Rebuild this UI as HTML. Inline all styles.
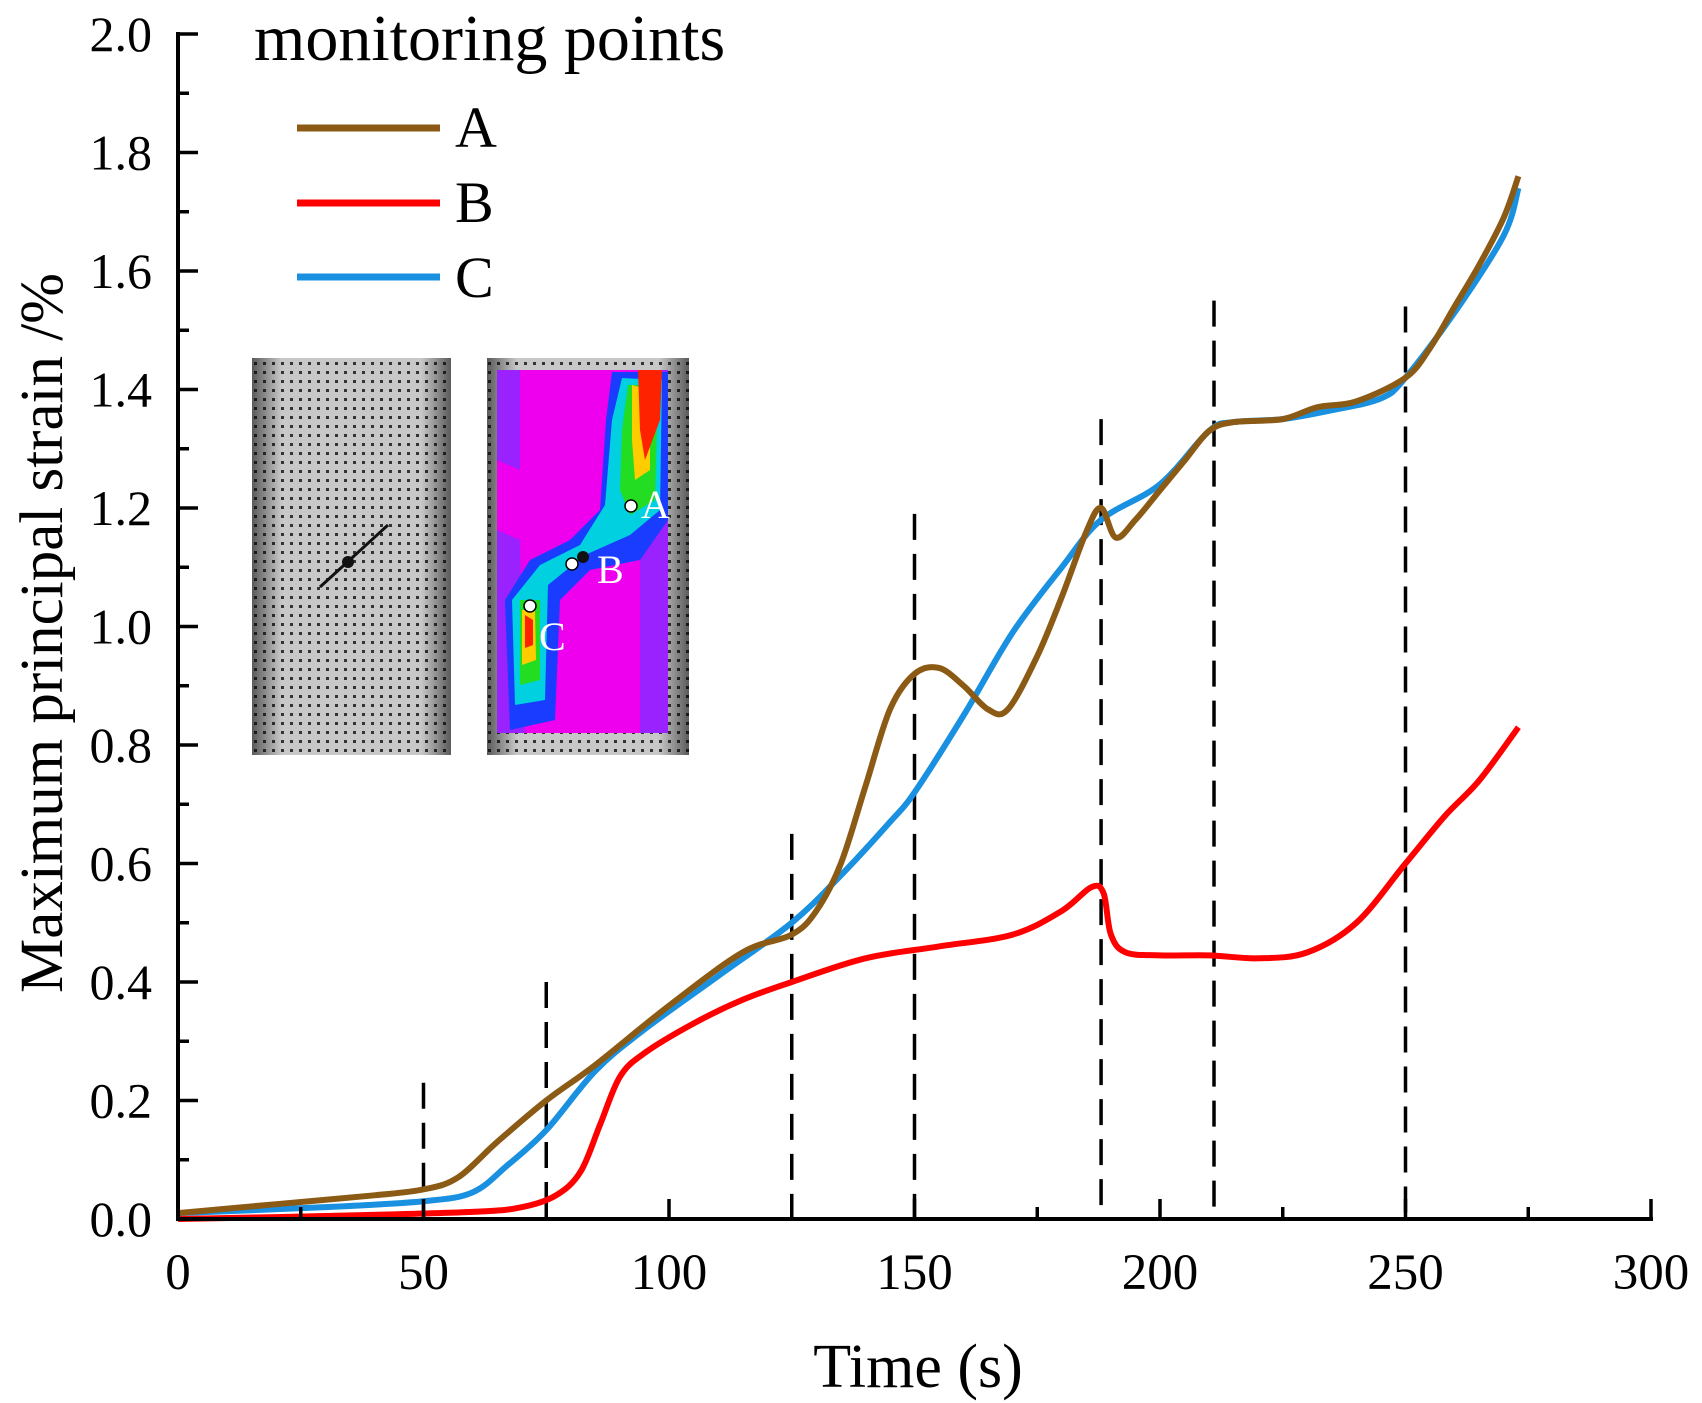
<!DOCTYPE html>
<html><head><meta charset="utf-8"><style>
html,body{margin:0;padding:0;background:#fff;}
svg{display:block;font-family:"Liberation Serif",serif;}
</style></head><body>
<svg id="chart" width="1702" height="1403" viewBox="0 0 1702 1403" xmlns="http://www.w3.org/2000/svg">
<defs>
<pattern id="dots" width="9" height="9" patternUnits="userSpaceOnUse">
<rect width="9" height="9" fill="#c8c8c8"/><rect x="2" y="2" width="3" height="3" fill="#333"/>
</pattern>
<linearGradient id="shade" x1="0" x2="1" y1="0" y2="0">
<stop offset="0" stop-color="#000" stop-opacity="0.55"/><stop offset="0.15" stop-color="#000" stop-opacity="0"/>
<stop offset="0.85" stop-color="#000" stop-opacity="0"/><stop offset="1" stop-color="#000" stop-opacity="0.55"/>
</linearGradient>
</defs>
<g id="insets">
<g>
<rect x="252" y="358" width="199" height="397" fill="url(#dots)"/>
<rect x="252" y="358" width="199" height="397" fill="url(#shade)"/>
<line x1="320" y1="587" x2="388" y2="525" stroke="#111" stroke-width="3"/>
<circle cx="348" cy="562" r="6" fill="#111"/>
</g>
<g>
<rect x="487" y="358" width="202" height="397" fill="url(#dots)"/>
<rect x="487" y="358" width="202" height="397" fill="url(#shade)"/>
<rect x="497" y="370" width="171" height="363" fill="#ee00ee"/>
<path d="M497 370 L520 370 L520 470 L497 460 Z M497 530 L520 540 L525 733 L497 733 Z" fill="#9a22ff"/>
<path d="M650 370 L668 370 L668 733 L640 733 L640 560 L610 560 Z" fill="#9a22ff"/>
<path d="M612 372 L668 372 L668 520 L640 560 L590 570 L560 600 L555 720 L510 730 L505 600 L530 560 L570 540 L600 510 L606 420 Z" fill="#1a3cff"/>
<path d="M622 378 L662 380 L660 510 L630 535 L585 555 L548 585 L545 700 L515 705 L512 600 L540 565 L580 545 L605 505 L612 420 Z" fill="#00d0e0"/>
<path d="M628 385 L658 385 L655 500 L630 515 L620 490 L622 430 Z M520 600 L540 600 L540 680 L520 685 Z" fill="#22dd22"/>
<path d="M632 385 L650 390 L650 470 L635 480 L632 440 Z M522 610 L535 610 L536 660 L522 665 Z" fill="#ffcc00"/>
<path d="M638 370 L662 370 L660 420 L645 460 L640 430 Z M525 615 L533 620 L533 645 L525 648 Z" fill="#ff2200"/>
<circle cx="631" cy="506" r="6" fill="#fff" stroke="#000" stroke-width="1.5"/>
<circle cx="572" cy="564" r="6" fill="#fff" stroke="#000" stroke-width="1.5"/>
<circle cx="530" cy="606" r="6" fill="#fff" stroke="#000" stroke-width="1.5"/>
<circle cx="583" cy="557" r="6" fill="#111"/>
<text x="641" y="518" font-size="40" fill="#fff">A</text>
<text x="597" y="583" font-size="40" fill="#fff">B</text>
<text x="539" y="650" font-size="40" fill="#fff">C</text>
</g>
</g>
<g id="dashes"></g>
<g id="series"></g>
<g id="axes"></g>
<text x="918" y="1387" font-size="62" text-anchor="middle">Time (s)</text>
<text transform="translate(62,633) rotate(-90)" font-size="61" text-anchor="middle">Maximum principal strain /%</text>
<g>
<text x="254" y="60" font-size="66">monitoring points</text>
<g><line x1="297" y1="128" x2="440" y2="128" stroke="#8B5A14" stroke-width="7"/><text x="455" y="147" font-size="58">A</text></g>
<g><line x1="297" y1="203" x2="440" y2="203" stroke="#ff0000" stroke-width="7"/><text x="455" y="222" font-size="58">B</text></g>
<g><line x1="297" y1="277" x2="440" y2="277" stroke="#1a90e0" stroke-width="7"/><text x="455" y="297" font-size="58">C</text></g>
</g>
</svg>
<script>
const aTime=[0,20,40,50,57,65,75,85,100,115,125,130,135,140,145,150,155,160,165,169,175,180,185,188,191,195,200,205,210,215,225,232,240,250,255,260,265,270,273];
const aStrain=[0.01,0.025,0.04,0.05,0.07,0.13,0.2,0.26,0.36,0.45,0.48,0.52,0.6,0.73,0.86,0.92,0.93,0.9,0.86,0.86,0.95,1.05,1.16,1.2,1.15,1.18,1.23,1.28,1.33,1.345,1.35,1.37,1.38,1.42,1.47,1.54,1.61,1.69,1.76];
const bTime=[0,30,60,70,77,82,86,90,95,105,115,125,140,155,170,180,186,188.5,190,193,200,210,220,230,240,250,258,265,273];
const bStrain=[0.0,0.005,0.012,0.02,0.04,0.08,0.16,0.24,0.28,0.33,0.37,0.4,0.44,0.46,0.48,0.52,0.56,0.55,0.48,0.45,0.445,0.445,0.44,0.45,0.5,0.6,0.68,0.74,0.83];
const cTime=[0,30,50,60,67,75,85,95,110,125,135,145,150,160,170,180,188,200,210,215,225,235,245,250,260,270,273];
const cStrain=[0.01,0.02,0.03,0.045,0.09,0.15,0.25,0.32,0.41,0.5,0.58,0.67,0.72,0.85,0.99,1.1,1.18,1.24,1.33,1.345,1.35,1.365,1.385,1.42,1.53,1.66,1.74];
const dashTime=[50,75,125,150,188,211,250];
const dashTop=[0.23,0.4,0.65,1.19,1.35,1.55,1.54];
const xTicks=[0,50,100,150,200,250,300];
const yTicks=[0,0.2,0.4,0.6,0.8,1.0,1.2,1.4,1.6,1.8,2.0];
const X0=178,X1=1651,Y0=1219,Y1=34;
const sx=v=>X0+(v/300)*(X1-X0);
const sy=v=>Y0-(v/2)*(Y0-Y1);
const NS='http://www.w3.org/2000/svg';
function mk(tag,attrs,parent){const e=document.createElementNS(NS,tag);for(const k in attrs)e.setAttribute(k,attrs[k]);parent.appendChild(e);return e;}
const dg=document.getElementById('dashes');
dashTime.forEach((t,i)=>{
 const l=mk('line',{x1:sx(t),x2:sx(t),y1:sy(dashTop[i]),y2:Y0,stroke:'#000','stroke-width':3.5,'stroke-dasharray':'26 14'},dg);
 
 
});
const sg=document.getElementById('series');
function smooth(xs,ys){
 const p=xs.map((x,i)=>[sx(x),sy(ys[i])]);
 let d='M'+p[0][0]+' '+p[0][1];
 for(let i=0;i<p.length-1;i++){
  const p0=p[Math.max(0,i-1)],p1=p[i],p2=p[i+1],p3=p[Math.min(p.length-1,i+2)];
  const c1=[p1[0]+(p2[0]-p0[0])/6,p1[1]+(p2[1]-p0[1])/6],c2=[p2[0]-(p3[0]-p1[0])/6,p2[1]-(p3[1]-p1[1])/6];
  d+=` C${c1[0]} ${c1[1]} ${c2[0]} ${c2[1]} ${p2[0]} ${p2[1]}`;
 }
 return d;
}
const sC=mk('path',{d:smooth(cTime,cStrain),fill:'none',stroke:'#1a90e0','stroke-width':6},sg);


const sB=mk('path',{d:smooth(bTime,bStrain),fill:'none',stroke:'#ff0000','stroke-width':6},sg);


const sA=mk('path',{d:smooth(aTime,aStrain),fill:'none',stroke:'#8B5A14','stroke-width':6},sg);


const ag=document.getElementById('axes');
const xa=mk('line',{x1:X0-2,x2:X1+2,y1:Y0,y2:Y0,stroke:'#000','stroke-width':4},ag);


const ya=mk('line',{x1:X0,x2:X0,y1:Y1-2,y2:Y0+2,stroke:'#000','stroke-width':4},ag);


for(let v=0;v<=300;v+=25){
 const major=v%50===0;
 mk('line',{x1:sx(v),x2:sx(v),y1:Y0,y2:Y0-(major?20:12),stroke:'#000','stroke-width':3.5},ag);
}
for(let i=0;i<=20;i++){
 const v=i*0.1,major=i%2===0;
 mk('line',{x1:X0,x2:X0+(major?20:11),y1:sy(v),y2:sy(v),stroke:'#000','stroke-width':3.5},ag);
}
xTicks.forEach(v=>{
 const t=mk('text',{x:sx(v),y:Y0+70,'font-size':51,'text-anchor':'middle'},ag);
 t.textContent=v;
 
 
});
yTicks.forEach(v=>{
 const t=mk('text',{x:X0-26,y:sy(v)+17,'font-size':50,'text-anchor':'end'},ag);
 t.textContent=v.toFixed(1);
 
 
});
</script>
</body></html>
